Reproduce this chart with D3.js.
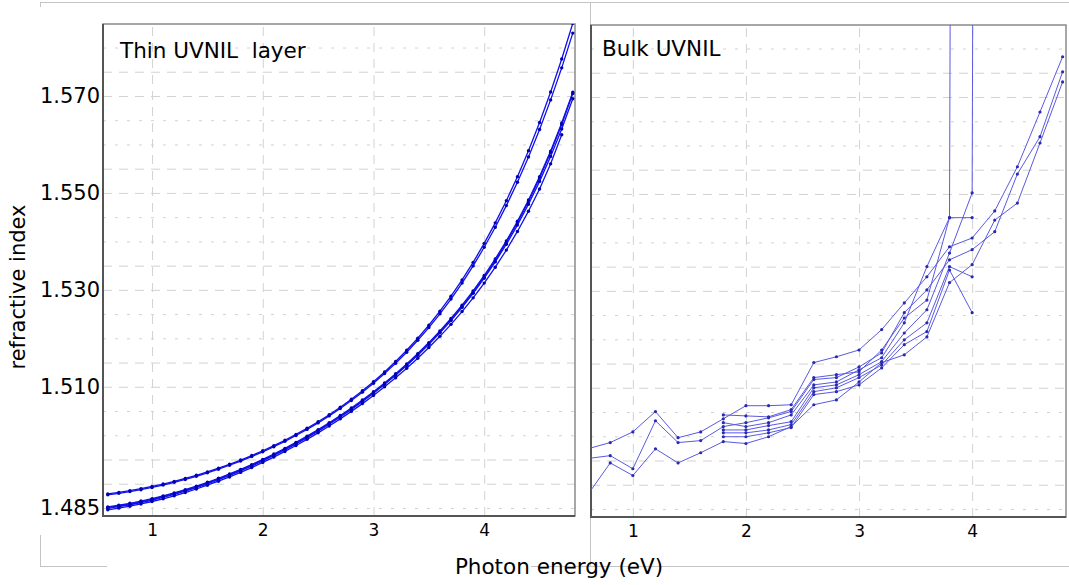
<!DOCTYPE html>
<html>
<head>
<meta charset="utf-8">
<script src="https://cdn.jsdelivr.net/npm/d3@7"></script>
<style>
  body { margin: 0; background: #fff; }
  text { font-family: "DejaVu Sans", Verdana, sans-serif; fill: #000; }
</style>
</head>
<body>
<script>
// ---- data ----
const energyThin = [0.6, 0.7, 0.8, 0.9, 1.0, 1.1, 1.2, 1.3, 1.4, 1.5, 1.6, 1.7, 1.8, 1.9, 2.0, 2.1, 2.2, 2.3, 2.4, 2.5,
                    2.6, 2.7, 2.8, 2.9, 3.0, 3.1, 3.2, 3.3, 3.4, 3.5, 3.6, 3.7, 3.8, 3.9, 4.0, 4.1, 4.2, 4.3, 4.4, 4.5,
                    4.6, 4.7, 4.8];

// upper bundle at low energy, ends highest
const thinP1 = [1.48790, 1.48821, 1.48857, 1.48897, 1.48943, 1.48993, 1.49048, 1.49108, 1.49174, 1.49244, 1.49320,
                1.49401, 1.49488, 1.49581, 1.49680, 1.49785, 1.49897, 1.50017, 1.50144, 1.50279, 1.50424, 1.50578,
                1.50742, 1.50918, 1.51105, 1.51307, 1.51522, 1.51754, 1.52002, 1.52270, 1.52559, 1.52869, 1.53205,
                1.53567, 1.53959, 1.54382, 1.54840, 1.55335, 1.55872, 1.56453, 1.57081, 1.57762, 1.58500];
const thinP2 = [1.48770, 1.48801, 1.48837, 1.48877, 1.48923, 1.48973, 1.49028, 1.49088, 1.49154, 1.49224, 1.49300,
                1.49381, 1.49467, 1.49560, 1.49659, 1.49764, 1.49875, 1.49995, 1.50121, 1.50255, 1.50399, 1.50552,
                1.50715, 1.50889, 1.51074, 1.51274, 1.51486, 1.51714, 1.51959, 1.52222, 1.52506, 1.52810, 1.53140,
                1.53494, 1.53878, 1.54291, 1.54738, 1.55220, 1.55743, 1.56308, 1.56919, 1.57580, 1.58297];
// lower bundle at low energy
const thinQ1 = [1.48521, 1.48556, 1.48596, 1.48642, 1.48693, 1.48749, 1.48811, 1.48878, 1.48951, 1.49029, 1.49112,
                1.49201, 1.49295, 1.49395, 1.49501, 1.49612, 1.49729, 1.49852, 1.49981, 1.50116, 1.50258, 1.50407,
                1.50563, 1.50727, 1.50899, 1.51080, 1.51271, 1.51472, 1.51685, 1.51912, 1.52152, 1.52409, 1.52683,
                1.52978, 1.53296, 1.53639, 1.54010, 1.54414, 1.54854, 1.55336, 1.55863, 1.56443, 1.57080];
const thinQ2 = [1.48491, 1.48526, 1.48566, 1.48612, 1.48663, 1.48719, 1.48781, 1.48848, 1.48921, 1.48999, 1.49082,
                1.49171, 1.49265, 1.49365, 1.49471, 1.49582, 1.49699, 1.49822, 1.49951, 1.50086, 1.50228, 1.50377,
                1.50533, 1.50697, 1.50869, 1.51050, 1.51241, 1.51442, 1.51655, 1.51882, 1.52122, 1.52379, 1.52653,
                1.52948, 1.53266, 1.53609, 1.53980, 1.54384, 1.54824, 1.55306, 1.55833, 1.56413, 1.57050];
const thinQ3 = [1.48506, 1.48541, 1.48581, 1.48627, 1.48678, 1.48734, 1.48796, 1.48863, 1.48936, 1.49014, 1.49097,
                1.49186, 1.49280, 1.49379, 1.49485, 1.49596, 1.49713, 1.49836, 1.49964, 1.50099, 1.50240, 1.50388,
                1.50543, 1.50706, 1.50877, 1.51056, 1.51245, 1.51444, 1.51655, 1.51879, 1.52115, 1.52368, 1.52638,
                1.52928, 1.53240, 1.53577, 1.53940, 1.54336, 1.54766, 1.55238, 1.55753, 1.56320, 1.56942];
const thinQ4 = [1.48461, 1.48496, 1.48536, 1.48582, 1.48633, 1.48689, 1.48751, 1.48818, 1.48891, 1.48969, 1.49052,
                1.49140, 1.49234, 1.49334, 1.49440, 1.49550, 1.49666, 1.49789, 1.49916, 1.50050, 1.50191, 1.50338,
                1.50492, 1.50653, 1.50822, 1.50999, 1.51186, 1.51382, 1.51589, 1.51809, 1.52041, 1.52288, 1.52552,
                1.52835, 1.53139, 1.53467, 1.53820, 1.54205, 1.54623, 1.55080, 1.55600, 1.56200, null];

const energyBulk = [0.6, 0.8, 1.0, 1.2, 1.4, 1.6, 1.8, 2.0, 2.2, 2.4, 2.6, 2.8, 3.0, 3.2, 3.4, 3.6, 3.8, 4.0, 4.2, 4.4,
                    4.6, 4.8];

const bulkA = [1.4974, 1.4987, 1.5009, 1.5051, 1.4997, 1.5009, 1.5036, 1.5063, 1.5063, 1.5065, 1.5152, 1.5164,
               1.5178, 1.5220, 1.5275, 1.5329, 1.5391, 1.5409, 1.5465, 1.5556, 1.5669, 1.5783];
const bulkB = [1.4954, 1.4960, 1.4933, 1.5032, 1.4987, 1.4991, 1.5020, 1.5028, 1.5038, 1.5051, 1.5117, 1.5121,
               1.5143, 1.5172, 1.5255, 1.5302, 1.5364, 1.5385, 1.5422, 1.5541, 1.5618, 1.5752];
const bulkC = [1.4879, 1.4945, 1.4919, 1.4974, 1.4945, 1.4966, 1.4989, 1.4985, 1.4999, 1.5020, 1.5065, 1.5075,
               1.5112, 1.5152, 1.5168, 1.5205, 1.5317, 1.5354, 1.5446, 1.5481, 1.5605, 1.5731];
const bulkD = [null, null, null, null, null, null, 1.5044, 1.5042, 1.5040, 1.5055, 1.5121, 1.5127,
               1.5133, 1.5178, 1.5244, 1.5281, 1.5451, 3.0, null, null, null, null];
const bulkE = [null, null, null, null, null, null, 1.5028, 1.5020, 1.5028, 1.5044, 1.5106, 1.5112,
               1.5137, 1.5162, 1.5234, 1.5350, 1.5451, 1.5451, null, null, null, null];
const bulkF = [null, null, null, null, null, null, 1.5013, 1.5013, 1.5022, 1.5030, 1.5100, 1.5106,
               1.5127, 1.5154, 1.5213, 1.5261, 1.5378, 1.5502, 3.0, null, null, null];
const bulkG = [null, null, null, null, null, null, 1.5007, 1.5007, 1.5013, 1.5024, 1.5092, 1.5100,
               1.5121, 1.5147, 1.5199, 1.5234, 1.5350, 1.5329, null, null, null, null];
const bulkH = [null, null, null, null, null, null, 1.4999, 1.4999, 1.5007, 1.5018, 1.5086, 1.5092,
               1.5106, 1.5141, 1.5189, 1.5216, 1.5343, 1.5255, null, null, null, null];

const yTicks = [1.485, 1.510, 1.530, 1.550, 1.570];
const xTicks = [1, 2, 3, 4];
const gridN = d3.range(0, 20).map(i => 1.485 + i * 0.005);

// ---- layout ----
const W = 1069, H = 585;
const nDomain = [1.48334, 1.58485];
const thinBox = {left: 103, top: 24, right: 575, bottom: 516};
const bulkBox = {left: 591, top: 25, right: 1066, bottom: 517};

var svg = d3.select('body')
            .append("svg")
            .attr("width", W)
            .attr("height", H);

// light outer frame lines
const frameLines = [
    [40, 2.5, 1069, 2.5], [40.5, 2, 40.5, 7],
    [590.5, 2, 590.5, 567], [531, 566.5, 1069, 566.5],
    [40.5, 535, 40.5, 566], [40, 566.5, 107, 566.5]
];
svg.selectAll(".frame")
   .data(frameLines)
   .join("line")
   .attr("class", "frame")
   .attr("x1", d => d[0]).attr("y1", d => d[1])
   .attr("x2", d => d[2]).attr("y2", d => d[3])
   .attr("stroke", "#c4c4c4")
   .attr("stroke-width", 1);

function gridDash(v){
    var k = Math.round((v - 1.485) / 0.005);
    return (Math.floor((k + 1) / 2) % 2 === 1) ? "9,7" : "3,9";
}

function drawPanel(id, box, xDomain, energies, series, look, title, titleY, showYLabels){
    const x = d3.scaleLinear().domain(xDomain).range([box.left, box.right]);
    const y = d3.scaleLinear().domain(nDomain).range([box.bottom, box.top]);
    const w = box.right - box.left, h = box.bottom - box.top;

    svg.append("defs").append("clipPath").attr("id", id)
       .append("rect").attr("x", box.left).attr("y", box.top).attr("width", w).attr("height", h);

    // horizontal grid
    svg.append("g")
       .attr("transform", "translate(" + box.left + ",0)")
       .call(d3.axisLeft(y).tickValues(gridN).tickSize(-w).tickFormat(""))
       .call(g => g.select(".domain").remove())
       .selectAll("line")
       .attr("stroke", "#d2d2d2")
       .attr("stroke-dasharray", d => gridDash(d));

    // vertical grid
    svg.append("g")
       .attr("transform", "translate(0," + box.bottom + ")")
       .call(d3.axisBottom(x).tickValues(xTicks).tickSize(-h).tickFormat(""))
       .call(g => g.select(".domain").remove())
       .selectAll("line")
       .attr("stroke", "#d2d2d2")
       .attr("stroke-dasharray", "9,7");

    // frame
    svg.append("rect")
       .attr("x", box.left).attr("y", box.top)
       .attr("width", w).attr("height", h)
       .attr("fill", "none")
       .attr("stroke", "#8a8a8a")
       .attr("stroke-width", 1.5);
    svg.append("path")
       .attr("d", "M" + box.left + "," + box.top + "V" + box.bottom + "H" + box.right)
       .attr("fill", "none")
       .attr("stroke", "#555")
       .attr("stroke-width", 2);

    const plot = svg.append("g").attr("clip-path", "url(#" + id + ")");
    const line = d3.line()
                   .defined(d => d.n != null)
                   .x(d => x(d.e))
                   .y(d => y(d.n));

    series.forEach(function(vals){
        const pts = energies.map((e, i) => ({e: e, n: vals[i]}));
        plot.append("path")
            .datum(pts)
            .attr("d", line)
            .attr("fill", "none")
            .attr("stroke", look.line)
            .attr("stroke-width", look.width);
        plot.selectAll(null)
            .data(pts.filter(d => d.n != null && d.n < 2))
            .join("circle")
            .attr("cx", d => x(d.e))
            .attr("cy", d => y(d.n))
            .attr("r", look.r)
            .attr("fill", look.dot);
    });

    // tick labels
    svg.append("g")
       .attr("transform", "translate(0," + box.bottom + ")")
       .call(d3.axisBottom(x).tickValues(xTicks).tickFormat(d3.format("d")).tickSize(0).tickPadding(8))
       .call(g => g.select(".domain").remove())
       .selectAll("text")
       .style("font-size", "17px")
       .attr("font-family", null);

    if(showYLabels){
        svg.append("g")
           .attr("transform", "translate(" + box.left + ",0)")
           .call(d3.axisLeft(y).tickValues(yTicks).tickFormat(d3.format(".3f")).tickSize(0).tickPadding(3))
           .call(g => g.select(".domain").remove())
           .selectAll("text")
           .style("font-size", "21px")
           .attr("font-family", null);
    }

    svg.append("text")
       .attr("x", box.left + (id === "thin" ? 17 : 11))
       .attr("y", titleY)
       .style("font-size", "21.5px")
       .style("white-space", "pre")
       .text(title);
}

drawPanel("thin", thinBox, [0.557, 4.82], energyThin,
          [thinP1, thinP2, thinQ1, thinQ2, thinQ3, thinQ4],
          {line: "#1010e8", width: 1.3, r: 1.7, dot: "#0000b4"},
          "Thin UVNIL  layer", 58, true);

drawPanel("bulk", bulkBox, [0.63, 4.83], energyBulk,
          [bulkA, bulkB, bulkC, bulkD, bulkE, bulkF, bulkG, bulkH],
          {line: "#5a5ae0", width: 1, r: 1.6, dot: "#2a2ab0"},
          "Bulk UVNIL", 56, false);

// axis titles
svg.append("text")
   .attr("x", 559)
   .attr("y", 574)
   .attr("text-anchor", "middle")
   .style("font-size", "21.5px")
   .text("Photon energy (eV)");

svg.append("text")
   .attr("transform", "translate(25,287) rotate(-90)")
   .attr("text-anchor", "middle")
   .style("font-size", "21px")
   .text("refractive index");
</script>
</body>
</html>
